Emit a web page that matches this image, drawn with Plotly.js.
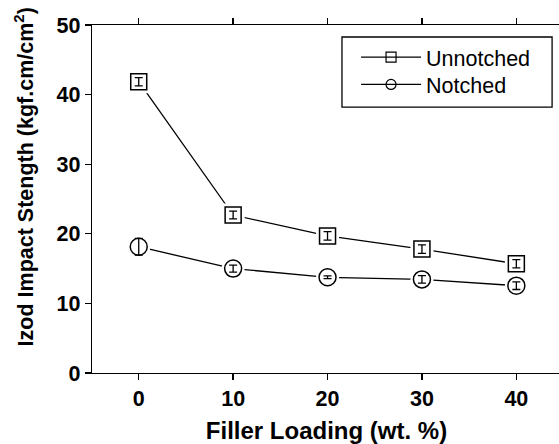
<!DOCTYPE html>
<html>
<head>
<meta charset="utf-8">
<script src="https://cdn.plot.ly/plotly-3.0.1.min.js"></script>
<style>
  html, body { margin: 0; padding: 0; overflow: hidden; background: #fff; }
  #chart { width: 561px; height: 444px; }
</style>
</head>
<body>
<div id="chart"></div>
<script>
// ---- data ----
var fillerLoading = [0, 10, 20, 30, 40];
var unnotched = [41.85, 22.7, 19.7, 17.8, 15.7];
var unnotchedErr = [0.6, 0.55, 0.6, 0.6, 0.6];
var notched = [18.15, 15.0, 13.75, 13.45, 12.55];
var notchedErr = [1.2, 0.5, 0.2, 0.55, 0.55];
var seriesNames = ['Unnotched', 'Notched'];
var xTicks = [0, 10, 20, 30, 40];
var yTicks = [0, 10, 20, 30, 40, 50];

var FONT = 'Liberation Sans, Arial, Helvetica, sans-serif';

function legendTrace(name, y, sym, legendId) {
  return {
    x: fillerLoading, y: y, name: name, mode: 'lines+markers', legend: legendId,
    line: {color: '#000', width: 1.3},
    marker: {symbol: sym + '-open', size: 10, color: '#000', line: {width: 1.2, color: '#000'}},
    hoverinfo: 'skip'
  };
}
function maskTrace(y, sym, size) {
  return {
    x: fillerLoading, y: y, mode: 'markers', showlegend: false,
    marker: {symbol: sym, size: size, color: '#fff', line: {width: 0}},
    hoverinfo: 'skip'
  };
}
function pointTrace(y, err, sym, size) {
  return {
    x: fillerLoading, y: y, mode: 'markers', showlegend: false,
    marker: {symbol: sym + '-open', size: size, color: '#000', line: {width: 1.5, color: '#000'}},
    error_y: {type: 'data', array: err, visible: true, color: '#000', thickness: 1.3, width: 4},
    hoverinfo: 'skip'
  };
}

var traces = [
  legendTrace(seriesNames[0], unnotched, 'square', 'legend'),
  legendTrace(seriesNames[1], notched, 'circle', 'legend2'),
  maskTrace(unnotched, 'square', 23),
  maskTrace(notched, 'circle', 23),
  pointTrace(unnotched, unnotchedErr, 'square', 16),
  pointTrace(notched, notchedErr, 'circle', 17)
];

var legendStyle = function (ytop) {
  return {
    x: 0.563, y: ytop, xanchor: 'left', yanchor: 'top',
    bgcolor: 'rgba(0,0,0,0)', borderwidth: 0,
    font: {family: FONT, size: 21.5, color: '#000'},
    itemwidth: 60
  };
};

var layout = {
  width: 561, height: 444,
  margin: {l: 92, r: 0, t: 25, b: 71},
  paper_bgcolor: '#fff', plot_bgcolor: '#fff',
  font: {family: FONT, color: '#000'},
  showlegend: true,
  xaxis: {
    range: [-4.95, 44.73],
    tickvals: xTicks, ticktext: xTicks.map(String),
    ticks: 'outside', ticklen: 6, tickwidth: 1.3, tickcolor: '#000',
    showline: true, linecolor: '#000', linewidth: 1.3, mirror: 'ticks',
    showgrid: false, zeroline: false,
    tickfont: {family: FONT, size: 21.5, weight: 700, color: '#000'},
    title: {text: 'Filler Loading (wt. %)', standoff: 12,
            font: {family: FONT, size: 24, weight: 700, color: '#000'}}
  },
  yaxis: {
    range: [0, 50],
    tickvals: yTicks, ticktext: yTicks.map(String),
    ticks: 'outside', ticklen: 6, tickwidth: 1.3, tickcolor: '#000',
    showline: true, linecolor: '#000', linewidth: 1.3, mirror: 'ticks',
    showgrid: false, zeroline: false,
    tickfont: {family: FONT, size: 21.5, weight: 700, color: '#000'}
  },
  legend: legendStyle(0.9664),
  legend2: legendStyle(0.888),
  shapes: [{
    type: 'rect', xref: 'paper', yref: 'paper',
    x0: 0.533, x1: 0.981, y0: 0.764, y1: 0.9655,
    line: {color: '#000', width: 1.3}, fillcolor: '#fff', layer: 'above'
  }],
  annotations: [{
    xref: 'paper', yref: 'paper', x: -0.145, y: 0.565,
    xanchor: 'center', yanchor: 'middle', textangle: -90, showarrow: false,
    text: 'Izod Impact Stength (kgf.cm/cm<sup>2</sup>)',
    font: {family: FONT, size: 21.5, weight: 700, color: '#000'}
  }]
};

Plotly.newPlot('chart', traces, layout, {displayModeBar: false, staticPlot: true});
</script>
</body>
</html>
